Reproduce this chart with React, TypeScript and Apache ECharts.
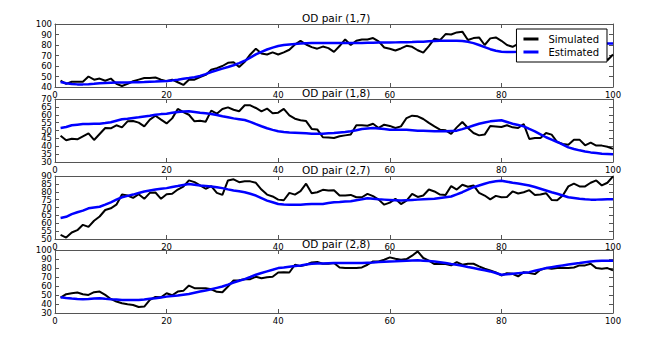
import React, { useEffect, useRef } from 'react';
import * as echarts from 'echarts';

const panelTitles = ['OD pair (1,7)', 'OD pair (1,8)', 'OD pair (2,7)', 'OD pair (2,8)'];
const seriesNames = ['Simulated', 'Estimated'];
const xTicks = { min: 0, max: 100, interval: 20 };
const yRanges = [
  { min: 40, max: 100, interval: 10 },
  { min: 30, max: 70, interval: 5 },
  { min: 50, max: 90, interval: 5 },
  { min: 30, max: 100, interval: 10 },
];
// tick labels, split into two interleaved sets so dense axes keep every label
const yLabelsA = [
  [40, 50, 60, 70, 80, 90, 100],
  [30, 40, 50, 60, 70],
  [50, 60, 70, 80, 90],
  [30, 40, 50, 60, 70, 80, 90, 100],
];
const yLabelsB = [
  [],
  [35, 45, 55, 65],
  [55, 65, 75, 85],
  [],
];

const sim17 = [
  46, 43, 45, 45, 45, 50, 47, 48, 46, 48,
  43, 41, 43, 45.5, 47, 48.5, 48.5, 49, 47, 45.5,
  47, 44.5, 42, 47, 47, 49.5, 51.5, 56.5, 58, 60,
  63, 63.5, 59, 64, 71, 76.5, 72, 71, 73, 71,
  73, 75.5, 80.5, 84, 80.5, 78, 76.5, 78.5, 77, 73.5,
  79, 85.3, 80, 84, 85.3, 85.3, 86.6, 83.4, 77.6, 76.4,
  74.8, 76.7, 79.2, 78.3, 75, 72.8, 79, 86, 84.7, 90.4,
  90, 92, 92.7, 84.7, 86.6, 87.2, 80, 86.3, 87.2, 84,
  80, 78.3, 81, 81.5, 80, 83, 79, 81, 78, 80,
  77, 80, 78, 79, 76, 78, 74, 72, 65.5, 71,
];
const est17 = [
  44.7, 43.5, 42.8, 42.5, 42.5, 42.7, 43, 43.5, 43.8, 44,
  44.2, 44.3, 44.4, 44.5, 44.5, 44.7, 45, 45.2, 45.5, 45.8,
  46.3, 47, 47.8, 48.5, 49.3, 50.5, 52.3, 54.3, 56, 57.5,
  59, 60.7, 62.8, 65, 68, 71, 73.5, 75.7, 77.5, 79,
  80, 80.5, 81, 81.5, 81.7, 81.8, 81.9, 82, 82, 82,
  82, 82, 82, 82, 82, 82.1, 82.2, 82.3, 82.4, 82.4,
  82.5, 82.6, 82.7, 82.8, 83, 83.2, 83.5, 83.8, 84, 84,
  84, 84, 83.8, 83, 81.8, 80, 78, 76, 74.5, 73.5,
  73.3, 73.3, 73.5, 74, 74.5, 75, 75.5, 76.5, 77.5, 78.5,
  79.5, 80, 80.5, 81, 81.3, 81.5, 81.5, 81.5, 81.5, 81.5,
];
const sim18 = [
  46.7, 43.8, 44.8, 44.4, 46.3, 48.2, 44, 47.8, 51.6, 51.4,
  53.3, 52, 55.8, 56, 55, 52.6, 56.9, 59.4, 56.9, 54.5,
  57.7, 63.7, 61.7, 60, 55.8, 56.2, 55.6, 62.6, 60.7, 63.7,
  64.7, 63.2, 62.2, 66, 66, 64.3, 62.2, 63.9, 60.9, 61.3,
  63.7, 59.6, 57.5, 56.5, 56, 51, 50.7, 45.7, 45.5, 45.2,
  46.3, 46.9, 47.4, 53.3, 53.3, 53, 54.3, 51.6, 53.7, 52.9,
  51.6, 52.6, 57.9, 59.4, 59, 57.3, 54.8, 52.6, 50.5, 50.1,
  47.8, 52, 55.4, 51.6, 48.4, 46.9, 47.4, 52.9, 52.6, 52.2,
  53.3, 52, 51.6, 54.1, 44.6, 45.2, 45.2, 48.4, 47.4, 42.7,
  41.4, 41, 44.2, 44.2, 40.6, 42.3, 40.4, 40.4, 39.7, 38.3,
];
const est18 = [
  51.6, 52.2, 53.3, 53.7, 54.1, 54.2, 54.3, 54.3, 54.7, 55.2,
  56.2, 57.1, 57.5, 58, 58.4, 58.9, 59.4, 60, 60.4, 60.7,
  61.2, 61.7, 62, 62.2, 61.8, 61.3, 60.9, 60.5, 59.8, 59,
  58.4, 57.7, 57.2, 56.7, 55.5, 54.1, 52.7, 51.4, 50.4, 49.5,
  49.1, 48.8, 48.6, 48.4, 48.2, 48, 48, 48, 48.2, 48.4,
  48.8, 49.1, 49.5, 50.2, 51, 51.3, 51.6, 51.3, 50.9, 50.5,
  50.5, 50.5, 50.5, 50.2, 49.9, 49.8, 49.7, 49.6, 49.5, 49.5,
  49.7, 49.9, 50.9, 52, 53.2, 54.3, 55.1, 55.8, 56.2, 56.5,
  55.4, 54.3, 53.5, 52.6, 51, 49.5, 47.6, 45.7, 44.2, 42.7,
  41, 39.3, 38.3, 37.4, 36.7, 36.1, 35.7, 35.3, 35.1, 34.9,
];
const sim27 = [
  52.6, 50.9, 54.1, 55.6, 59, 57.7, 61.6, 64.3, 68.4, 69.5,
  71.8, 78.2, 77.6, 76.1, 78.4, 75.5, 79.3, 79.5, 75.5, 78.4,
  78.7, 81.4, 83.2, 87.2, 86.1, 84, 81.9, 83.6, 79.3, 78,
  87.2, 87.9, 86.1, 86.6, 86.6, 85.7, 81.4, 78.2, 77, 75,
  74.6, 79.3, 78.2, 80.4, 85.1, 79.1, 79.7, 81.2, 80.8, 81,
  77.6, 77.6, 78, 76.5, 76.5, 78.7, 77.2, 75, 71.8, 73.1,
  75.5, 72.2, 74.4, 78.7, 76.7, 77.6, 81.4, 80.2, 78.2, 78,
  83.6, 81.4, 84.4, 83.2, 84, 79.3, 77.6, 75.2, 77.4, 76.5,
  76.7, 80.2, 78.9, 79.7, 81, 78, 78.2, 79.1, 74.8, 74.6,
  77.6, 83.4, 85.1, 83.4, 83.4, 85.7, 87.2, 84, 85.7, 89.8,
];
const est27 = [
  63.3, 64.1, 65.8, 67, 68, 69.5, 70, 70.5, 71.8, 73.3,
  75, 76.5, 77.4, 78.2, 79.2, 80.2, 80.8, 81.4, 81.9, 82.3,
  83, 83.6, 84.3, 84.9, 84.5, 84, 83.7, 83.4, 82.9, 82.3,
  81.5, 80.8, 80.3, 79.7, 78.7, 77.6, 76, 74.4, 73.3, 72.2,
  71.9, 71.8, 71.8, 71.8, 72, 72.2, 72.2, 72.2, 72.8, 73.3,
  73.5, 73.8, 74, 74.6, 75.2, 75.9, 75.5, 75.2, 75, 74.8,
  74.6, 74.4, 74.6, 74.8, 75, 75.2, 75.4, 75.5, 76, 76.5,
  77, 78.3, 79.7, 81.3, 82.9, 84, 85.1, 86.1, 86.6, 87,
  86.4, 85.7, 85.2, 84.6, 84, 83, 81.9, 80.8, 79.7, 78.7,
  77.6, 76.5, 76, 75.5, 75.2, 75, 75, 75.1, 75.2, 75.2,
];
const sim28 = [
  47.1, 50.9, 52, 52.7, 50.9, 50.1, 53.1, 53.8, 50.1, 45.6,
  42.7, 40.8, 39.7, 38.9, 36.7, 37.1, 44.5, 47.9, 47.5, 52,
  49.7, 53.8, 54.6, 60.5, 57.6, 57.6, 57.6, 56.4, 53.5, 53.1,
  59.4, 66.1, 66.5, 67.6, 67.6, 70.2, 68.7, 69.8, 70.2, 75,
  75.4, 75, 83.6, 82.1, 83.6, 86.2, 86.6, 84.7, 84.7, 85.5,
  80.6, 79.9, 79.9, 79.9, 80.6, 83.6, 87.3, 87.3, 89.2, 91.8,
  90.3, 89.2, 89.9, 93.7, 98.5, 91.1, 88.1, 84.4, 84.4, 84.4,
  82.9, 86.6, 83.6, 84.7, 84.7, 81.8, 79.2, 77.3, 75, 71.7,
  74.3, 73.6, 70.6, 75.4, 74.3, 73.2, 78, 79.9, 79.2, 79.9,
  79.9, 79.9, 80.6, 82.9, 82.9, 84.7, 79.9, 79.2, 79.9, 77.3,
];
const est28 = [
  47.5, 46.7, 46, 45.6, 45.3, 45.5, 46, 46.4, 45.8, 45.3,
  44.9, 44.5, 44.5, 44.5, 44.5, 45.1, 45.8, 46.4, 47.3, 48.2,
  48.8, 49.4, 50.3, 51.2, 52.5, 53.8, 55.1, 56.4, 57.9, 59.4,
  61.6, 63.9, 65.8, 67.6, 70, 72.5, 74.4, 76.2, 78, 79.9,
  80.6, 81.4, 82.1, 82.9, 83.8, 84.7, 84.9, 85.1, 85.3, 85.5,
  85.5, 85.5, 85.5, 85.5, 85.5, 85.9, 86.2, 86.6, 87, 87.3,
  87.5, 87.8, 88, 88.3, 88.5, 88.1, 87.7, 87.3, 86.4, 85.5,
  84.5, 83.6, 82.4, 81.1, 79.9, 78.7, 77.4, 76.2, 74.4, 72.5,
  73, 73.6, 74.2, 74.8, 75.4, 76.9, 78.4, 79.9, 80.9, 81.9,
  82.9, 83.8, 84.7, 85.5, 86.4, 87.3, 87.7, 88.1, 88.1, 88.1,
];

const simulated = [sim17, sim18, sim27, sim28];
const estimated = [est17, est18, est27, est28];

const FONT = 'DejaVu Sans';
const AXIS_COLOR = '#555';
const PANEL_TOPS = [24, 99, 176, 250];
const PANEL_H = 63;
const LEFT = 55;
const RIGHT = 37;

export default function App() {
  const ref = useRef<HTMLDivElement>(null);
  useEffect(() => {
    if (!ref.current) return;
    const chart = echarts.init(ref.current, undefined, { renderer: 'svg' });
    const grids: any[] = [];
    const xAxes: any[] = [];
    const yAxes: any[] = [];
    const series: any[] = [];
    const titles: any[] = [];
    const tickStyle = { inside: true, length: 4, lineStyle: { color: AXIS_COLOR, width: 1 } };
    const lineStyleAxis = { show: true, lineStyle: { color: AXIS_COLOR, width: 1 } };
    const labelStyle = { color: '#000', fontSize: 8.5, fontFamily: FONT, lineHeight: 8 };
    PANEL_TOPS.forEach((top, i) => {
      const range = yRanges[i];
      grids.push({ left: LEFT, right: RIGHT, top, height: PANEL_H });
      titles.push({
        text: panelTitles[i],
        left: 302,
        top: top - 12.5,
        padding: 0,
        textStyle: { fontSize: 10.5, fontWeight: 'normal', color: '#000', fontFamily: FONT, lineHeight: 12 },
      });
      const xIdx = xAxes.length;
      xAxes.push({
        type: 'value', gridIndex: i, position: 'bottom', ...xTicks,
        axisLine: { ...lineStyleAxis, onZero: false }, axisTick: tickStyle,
        axisLabel: { ...labelStyle, lineHeight: 9, margin: 3, showMinLabel: true, showMaxLabel: true },
        splitLine: { show: false },
      });
      xAxes.push({
        type: 'value', gridIndex: i, position: 'top', ...xTicks,
        axisLine: { ...lineStyleAxis, onZero: false }, axisTick: tickStyle,
        axisLabel: { show: false }, splitLine: { show: false },
      });
      const yIdx = yAxes.length;
      yAxes.push({
        type: 'value', gridIndex: i, position: 'left', ...range,
        axisLine: { ...lineStyleAxis, onZero: false }, axisTick: tickStyle,
        axisLabel: { ...labelStyle, margin: 3, showMinLabel: true, showMaxLabel: true, customValues: yLabelsA[i] },
        splitLine: { show: false },
      });
      yAxes.push({
        type: 'value', gridIndex: i, position: 'right', ...range,
        axisLine: { ...lineStyleAxis, onZero: false }, axisTick: tickStyle,
        axisLabel: { show: false }, splitLine: { show: false },
      });
      if (yLabelsB[i].length) {
        yAxes.push({
          type: 'value', gridIndex: i, position: 'left', offset: 0, ...range,
          axisLine: { show: false, onZero: false }, axisTick: { show: false },
          axisLabel: { ...labelStyle, margin: 3, showMinLabel: true, showMaxLabel: true, customValues: yLabelsB[i] },
          splitLine: { show: false },
        });
      }
      series.push({
        name: seriesNames[0], type: 'line', xAxisIndex: xIdx, yAxisIndex: yIdx,
        data: simulated[i].map((v, k) => [k + 1, v]),
        showSymbol: false, symbol: 'none', color: '#000',
        lineStyle: { color: '#000', width: 2 }, z: 2,
      });
      series.push({
        name: seriesNames[1], type: 'line', xAxisIndex: xIdx, yAxisIndex: yIdx,
        data: estimated[i].map((v, k) => [k + 1, v]),
        showSymbol: false, symbol: 'none', color: '#0000ff',
        lineStyle: { color: '#0000ff', width: 2.5 }, z: 3,
      });
    });
    chart.setOption({
      animation: false,
      backgroundColor: '#fff',
      title: titles,
      grid: grids,
      xAxis: xAxes,
      yAxis: yAxes,
      series,
      legend: {
        data: seriesNames,
        orient: 'vertical',
        right: 43,
        top: 29,
        backgroundColor: '#fff',
        borderColor: '#000',
        borderWidth: 1,
        borderRadius: 0,
        padding: [5, 8, 5, 7],
        itemWidth: 15,
        itemHeight: 3,
        itemGap: 3,
        icon: 'rect',
        z: 10,
        textStyle: { fontSize: 10, fontFamily: FONT, color: '#000', padding: [0, 0, 0, 5] },
      },
    });
    return () => chart.dispose();
  }, []);
  return <div ref={ref} style={{ width: 650, height: 338, position: 'absolute', left: 0, top: 0 }} />;
}
